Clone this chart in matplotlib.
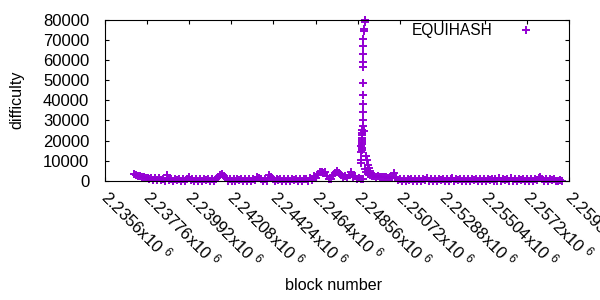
import numpy as np
import matplotlib
matplotlib.use("Agg")
import matplotlib.pyplot as plt

plt.rcParams['font.family'] = ['Liberation Sans', 'DejaVu Sans']
plt.rcParams['mathtext.fontset'] = 'custom'
plt.rcParams['mathtext.rm'] = 'Liberation Sans'
plt.rcParams['mathtext.it'] = 'Liberation Sans:italic'

# ---- data -------------------------------------------------------------
series_name = "EQUIHASH"
first_block = 2237100
block_step = 100
band_values = [
    3500, 3000, 2600, 2300, 2000, 1800, 1500, 1700, 1100, 1500,
    700, 1400, 400, 1300, 300, 1200, 200, 3000, 300, 1100,
    150, 900, 250, 1000, 100, 900, 200, 1000, 2000, 300,
    900, 150, 1000, 200, 900, 100, 1000, 250, 900, 150,
    1000, 200, 900, 1800, 3000, 3500, 2500, 1500, 200, 900,
    150, 1000, 100, 900, 250, 1000, 150, 900, 200, 1000,
    100, 900, 250, 2000, 1700, 900, 150, 1000, 200, 2800,
    2200, 1000, 150, 900, 250, 1000, 100, 900, 200, 1000,
    150, 900, 250, 1000, 100, 900, 200, 1000, 900, 200,
    1500, 600, 2500, 1500, 3600, 4400, 4600, 3800, 4300, 2500,
    800, 1200, 2800, 4000, 4800, 4200, 3000, 1800, 2600, 1400,
    2900, 4500, 2000, 2500, 1000, 1600, 800, 1200, 6000, 4500,
    3600, 3000, 2700, 2500, 2200, 2400, 2000, 2200, 1800, 2000,
    1700, 1900, 1500, 4000, 1400, 300, 1200, 200, 1000, 150,
    900, 250, 1000, 100, 900, 200, 1000, 150, 900, 250,
    1300, 100, 900, 200, 1000, 150, 900, 250, 1000, 100,
    900, 200, 1000, 1300, 150, 900, 250, 1000, 100, 900,
    200, 1000, 150, 900, 250, 1000, 100, 900, 200, 1000,
    150, 900, 250, 1000, 100, 900, 200, 1300, 150, 1000,
    250, 900, 100, 1300, 200, 1000, 150, 900, 250, 1000,
    100, 900, 200, 1000, 150, 900, 250, 1600, 2000, 1200,
    200, 1000, 150, 900, 250, 900, 200, 150, 250, 100,
]
band_blocks = first_block + block_step * np.arange(len(band_values))

spike_blocks = [2248920, 2248900, 2248850, 2248860, 2248800, 2248800, 2248800,
                2248800, 2248800, 2248800, 2248800, 2248800, 2248800, 2248800,
                2248800, 2248790, 2248880, 2248780, 2248770, 2248760, 2248760,
                2248750, 2248750, 2248740, 2248760, 2248750, 2248740, 2248720,
                2248700, 2248980, 2249030, 2249080, 2249120, 2249160, 2249200]
spike_values = [79800, 78700, 75400, 74300, 70200, 66900, 62900,
                59100, 56600, 48400, 42600, 38100, 34200, 30200,
                27200, 25300, 25000, 23800, 22600, 21500, 20300,
                19200, 18200, 17300, 16300, 15300, 14400, 10500,
                8900, 12500, 10200, 7900, 6300, 4900, 3900]

x_ticks = [2235600, 2237760, 2239920, 2242080, 2244240, 2246400,
           2248560, 2250720, 2252880, 2255040, 2257200, 2259360]
x_tick_labels = ["2.2356", "2.23776", "2.23992", "2.24208", "2.24424", "2.2464",
                 "2.24856", "2.25072", "2.25288", "2.25504", "2.2572", "2.25936"]
y_ticks = [0, 10000, 20000, 30000, 40000, 50000, 60000, 70000, 80000]

# ---- plot -------------------------------------------------------------
color = '#9400D3'
fig = plt.figure(figsize=(6, 3), dpi=100)
ax = fig.add_axes([104.5 / 600, 1 - 181 / 300, (569 - 104.5) / 600, (181 - 19.5) / 300])

all_blocks = np.concatenate([band_blocks, spike_blocks])
all_values = np.concatenate([band_values, spike_values])
order = np.argsort(all_blocks, kind='stable')
ax.plot(all_blocks[order], all_values[order], linestyle='none', marker='+',
        markersize=5.5, markeredgewidth=1.4, color=color, label=series_name,
        clip_on=False, antialiased=False)

ax.set_xlim(x_ticks[0], x_ticks[-1])
ax.set_ylim(0, 80000)
ax.set_xticks(x_ticks)
ax.set_xticklabels([f"{t}x10 $^{{6}}$" for t in x_tick_labels],
                   rotation=-45, ha='left', va='center', rotation_mode='anchor')
ax.set_yticks(y_ticks)
ax.set_yticklabels([str(v) for v in y_ticks])
ax.tick_params(direction='in', length=3, width=0.8, top=True, right=True,
               labelsize=12, colors='black')
ax.tick_params(axis='x', pad=9)
ax.tick_params(axis='y', pad=11)
for s in ax.spines.values():
    s.set_linewidth(0.8)

fig.text(17 / 600, 1 - 100 / 300, "difficulty", rotation=90, ha='center',
         va='center', fontsize=11.6)
fig.text(334 / 600, 1 - 286 / 300, "block number", ha='center', va='center',
         fontsize=11.6)

ax.legend(loc='upper right', bbox_to_anchor=(542 / 600, 1 - 23 / 300),
          bbox_transform=fig.transFigure, frameon=False, markerfirst=False,
          fontsize=11.2, handlelength=2.0, handletextpad=1.2, borderpad=0,
          borderaxespad=0, numpoints=1)

fig.savefig("out.png", dpi=100)
